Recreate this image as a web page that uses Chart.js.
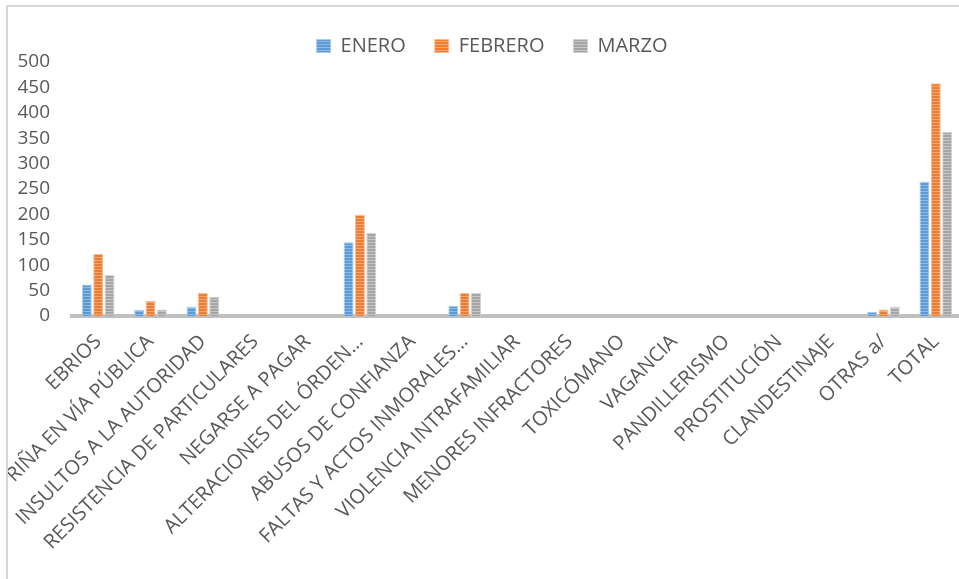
<!DOCTYPE html>
<html>
<head>
<meta charset="utf-8">
<style>
    html, body {
        margin: 0;
        padding: 0;
        background: #ffffff;
        overflow: hidden;
        width: 959px;
        height: 579px;
    }
    .frame {
        position: absolute;
        left: 6px;
        top: 5px;
        width: 960px;
        height: 580px;
        border-left: 2px solid #d6d6d6;
        border-top: 2px solid #d6d6d6;
    }
    .wrap {
        position: absolute;
        left: 8px;
        top: 0;
        width: 954px;
        height: 579px;
        overflow: hidden;
    }
</style>
<script src="https://cdn.jsdelivr.net/npm/chart.js"></script>
</head>
<body>
<div class="frame"></div>
<div class="wrap">
    <canvas id="grafica" width="954" height="579"></canvas>
</div>
<script>
    // datos
    const categorias = ['EBRIOS', 'RIÑA EN VÍA PÚBLICA', 'INSULTOS A LA AUTORIDAD', 'RESISTENCIA DE PARTICULARES',
        'NEGARSE A PAGAR', 'ALTERACIONES DEL ÓRDEN…', 'ABUSOS DE CONFIANZA', 'FALTAS Y ACTOS INMORALES…',
        'VIOLENCIA INTRAFAMILIAR', 'MENORES INFRACTORES', 'TOXICÓMANO', 'VAGANCIA', 'PANDILLERISMO',
        'PROSTITUCIÓN', 'CLANDESTINAJE', 'OTRAS a/', 'TOTAL'];
    const enero   = [62, 12, 18, 0, 0, 145, 0, 20, 0, 0, 0, 0, 0, 0, 0, 8, 265];
    const febrero = [122, 30, 46, 0, 0, 200, 0, 46, 0, 0, 0, 0, 0, 0, 0, 13, 458];
    const marzo   = [81, 13, 38, 0, 0, 164, 0, 46, 0, 0, 0, 0, 0, 0, 0, 18, 362];

    // relleno rayado horizontal como en Excel
    function rayas(base, claro) {
        const c = document.createElement('canvas');
        c.width = 4;
        c.height = 3;
        const g = c.getContext('2d');
        g.fillStyle = base;
        g.fillRect(0, 0, 4, 3);
        g.fillStyle = claro;
        g.fillRect(0, 2, 4, 1);
        return document.getElementById('grafica').getContext('2d').createPattern(c, 'repeat');
    }

    // mover la leyenda un poco, como en el original
    const moverLeyenda = {
        id: 'moverLeyenda',
        afterLayout(chart) {
            const l = chart.legend;
            l.left += 7;
            l.right += 7;
            l.top += 4;
            l.bottom += 4;
        }
    };

    const gris = '#595959';
    const ctx = document.getElementById('grafica').getContext('2d');
    const grafica = new Chart(ctx, {
        type: 'bar',
        data: {
            labels: categorias,
            datasets: [
                { label: 'ENERO', data: enero, backgroundColor: rayas('#5b9bd5', '#8fbbe3'), borderColor: '#a9cbea', borderWidth: 1 },
                { label: 'FEBRERO', data: febrero, backgroundColor: rayas('#ed7d31', '#f4a878'), borderColor: '#f6bc94', borderWidth: 1 },
                { label: 'MARZO', data: marzo, backgroundColor: rayas('#a5a5a5', '#c6c6c6'), borderColor: '#d0d0d0', borderWidth: 1 }
            ]
        },
        plugins: [moverLeyenda],
        options: {
            responsive: false,
            animation: false,
            layout: { padding: { left: 0, top: 3, right: 0, bottom: 0 } },
            datasets: {
                bar: { categoryPercentage: 0.65, barPercentage: 0.88 }
            },
            plugins: {
                legend: {
                    position: 'top',
                    labels: {
                        boxWidth: 14,
                        boxHeight: 13,
                        padding: 29,
                        color: gris,
                        font: { family: "'Open Sans', sans-serif", size: 20 }
                    }
                },
                tooltip: { enabled: false }
            },
            scales: {
                x: {
                    grid: { display: false, drawTicks: false },
                    border: { display: true, color: '#bfbfbf', width: 4 },
                    ticks: {
                        color: gris,
                        minRotation: 45,
                        maxRotation: 45,
                        autoSkip: false,
                        padding: 14,
                        font: { family: "'Open Sans', sans-serif", size: 20 }
                    },
                    afterFit: function (scale) {
                        scale.height = 263;
                        scale.paddingRight = 0;
                    }
                },
                y: {
                    min: 0,
                    max: 500,
                    grid: { display: false, drawTicks: false },
                    border: { display: false },
                    ticks: {
                        stepSize: 50,
                        autoSkip: false,
                        color: gris,
                        padding: 22,
                        font: { family: "'Open Sans', sans-serif", size: 19 }
                    },
                    afterFit: function (scale) {
                        scale.width = 64;
                    }
                }
            }
        }
    });
</script>
</body>
</html>
